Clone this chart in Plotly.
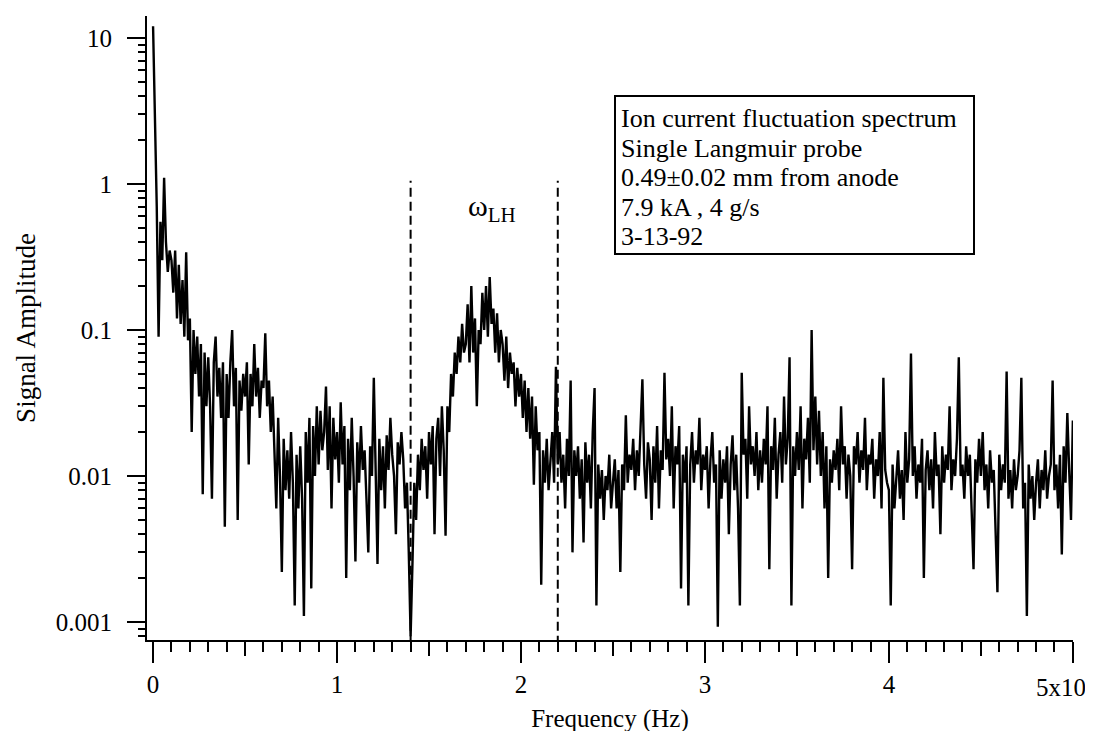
import plotly.graph_objects as go
import math

# ---------------- data ----------------
freq_step_mhz = 0.01  # spectral resolution of the plotted spectrum

amplitude = [
    # 0.0 - 0.09 MHz
    12.0, 3.2, 0.7, 0.09, 0.55, 0.3, 1.1, 0.4, 0.25, 0.35,
    # 0.1
    0.3, 0.18, 0.35, 0.12, 0.28, 0.11, 0.22, 0.09, 0.34, 0.085,
    # 0.2
    0.12, 0.02, 0.1, 0.05, 0.09, 0.035, 0.08, 0.0075, 0.07, 0.03,
    # 0.3
    0.065, 0.03, 0.007, 0.06, 0.09, 0.035, 0.055, 0.025, 0.06, 0.0045,
    # 0.4
    0.05, 0.025, 0.06, 0.1, 0.03, 0.055, 0.005, 0.045, 0.028, 0.05,
    # 0.5
    0.035, 0.06, 0.012, 0.05, 0.03, 0.08, 0.035, 0.055, 0.025, 0.045,
    # 0.6
    0.04, 0.095, 0.03, 0.045, 0.02, 0.035, 0.012, 0.006, 0.025, 0.01,
    # 0.7
    0.0022, 0.018, 0.008, 0.015, 0.007, 0.02, 0.009, 0.0013, 0.014, 0.006,
    # 0.8
    0.016, 0.007, 0.0011, 0.02, 0.009, 0.025, 0.0017, 0.022, 0.01, 0.03,
    # 0.9
    0.012, 0.028, 0.015, 0.02, 0.041, 0.011, 0.03, 0.006, 0.025, 0.013,
    # 1.0
    0.02, 0.009, 0.032, 0.012, 0.022, 0.002, 0.018, 0.008, 0.025, 0.01,
    # 1.1
    0.0026, 0.017, 0.009, 0.022, 0.011, 0.015, 0.007, 0.003, 0.016, 0.01,
    # 1.2
    0.047, 0.012, 0.0025, 0.018, 0.008, 0.016, 0.006, 0.019, 0.011, 0.025,
    # 1.3
    0.014, 0.01, 0.004, 0.017, 0.012, 0.02, 0.013, 0.006, 0.009, 0.003,
    # 1.4
    0.0008, 0.0025, 0.009, 0.005, 0.014, 0.008, 0.018, 0.011, 0.016, 0.007,
    # 1.5
    0.02, 0.012, 0.022, 0.004, 0.018, 0.025, 0.01, 0.03, 0.015, 0.0039,
    # 1.6
    0.03, 0.02, 0.05, 0.035, 0.07, 0.05, 0.09, 0.06, 0.11, 0.07,
    # 1.7
    0.08, 0.15, 0.06, 0.2, 0.07, 0.12, 0.03, 0.1, 0.08, 0.18,
    # 1.8
    0.1, 0.2, 0.09, 0.23, 0.11, 0.14, 0.07, 0.13, 0.06, 0.1,
    # 1.9
    0.08, 0.045, 0.09, 0.04, 0.07, 0.05, 0.06, 0.03, 0.055, 0.035,
    # 2.0
    0.05, 0.025, 0.045, 0.02, 0.04, 0.018, 0.035, 0.0087, 0.03, 0.015,
    # 2.1
    0.02, 0.0018, 0.015, 0.009, 0.018, 0.008, 0.013, 0.02, 0.009, 0.056,
    # 2.2
    0.012, 0.02, 0.009, 0.014, 0.006, 0.018, 0.01, 0.045, 0.003, 0.015,
    # 2.3
    0.01, 0.016, 0.007, 0.013, 0.0035, 0.017, 0.009, 0.014, 0.006, 0.02,
    # 2.4
    0.04, 0.0013, 0.012, 0.007, 0.011, 0.005, 0.01, 0.008, 0.014, 0.006,
    # 2.5
    0.009, 0.013, 0.006, 0.011, 0.0022, 0.012, 0.008, 0.026, 0.009, 0.014,
    # 2.6
    0.011, 0.018, 0.008, 0.015, 0.01, 0.02, 0.046, 0.012, 0.007, 0.017,
    # 2.7
    0.013, 0.005, 0.016, 0.009, 0.022, 0.006, 0.015, 0.011, 0.051, 0.013,
    # 2.8
    0.018, 0.01, 0.03, 0.006, 0.016, 0.012, 0.022, 0.0017, 0.014, 0.009,
    # 2.9
    0.016, 0.0013, 0.012, 0.02, 0.009, 0.015, 0.012, 0.025, 0.008, 0.014,
    # 3.0
    0.011, 0.016, 0.006, 0.013, 0.02, 0.009, 0.012, 0.00093, 0.015, 0.007,
    # 3.1
    0.013, 0.009, 0.016, 0.004, 0.012, 0.019, 0.008, 0.014, 0.006, 0.0013,
    # 3.2
    0.051, 0.014, 0.018, 0.007, 0.03, 0.012, 0.016, 0.01, 0.02, 0.008,
    # 3.3
    0.015, 0.009, 0.018, 0.012, 0.03, 0.0023, 0.016, 0.011, 0.025, 0.007,
    # 3.4
    0.014, 0.02, 0.009, 0.035, 0.012, 0.018, 0.065, 0.0013, 0.016, 0.01,
    # 3.5
    0.02, 0.011, 0.03, 0.006, 0.018, 0.013, 0.025, 0.009, 0.1, 0.015,
    # 3.6
    0.035, 0.012, 0.028, 0.01, 0.02, 0.006, 0.016, 0.002, 0.013, 0.009,
    # 3.7
    0.015, 0.011, 0.018, 0.008, 0.03, 0.012, 0.016, 0.007, 0.014, 0.01,
    # 3.8
    0.0023, 0.016, 0.012, 0.02, 0.009, 0.015, 0.011, 0.025, 0.008, 0.014,
    # 3.9
    0.012, 0.018, 0.007, 0.013, 0.01, 0.02, 0.006, 0.047, 0.011, 0.009,
    # 4.0
    0.008, 0.0013, 0.012, 0.006, 0.01, 0.015, 0.007, 0.011, 0.005, 0.02,
    # 4.1
    0.009, 0.013, 0.069, 0.01, 0.016, 0.007, 0.012, 0.009, 0.018, 0.002,
    # 4.2
    0.011, 0.015, 0.008, 0.013, 0.006, 0.02, 0.01, 0.012, 0.004, 0.016,
    # 4.3
    0.009, 0.014, 0.011, 0.03, 0.008, 0.013, 0.01, 0.018, 0.065, 0.01,
    # 4.4
    0.012, 0.007, 0.016, 0.01, 0.014, 0.006, 0.0023, 0.013, 0.009, 0.018,
    # 4.5
    0.01, 0.02, 0.008, 0.012, 0.006, 0.015, 0.009, 0.011, 0.004, 0.0016,
    # 4.6
    0.014, 0.008, 0.012, 0.009, 0.052, 0.007, 0.011, 0.006, 0.013, 0.008,
    # 4.7
    0.01, 0.015, 0.047, 0.006, 0.009, 0.0011, 0.012, 0.007, 0.01, 0.005,
    # 4.8
    0.009, 0.013, 0.006, 0.011, 0.008, 0.015, 0.007, 0.01, 0.012, 0.045,
    # 4.9
    0.008, 0.012, 0.006, 0.014, 0.0029, 0.016, 0.009, 0.027, 0.011, 0.005,
    # 5.0
    0.024,
]

freq_mhz = [round(i * freq_step_mhz, 2) for i in range(len(amplitude))]

x_tick_vals = [0, 1, 2, 3, 4, 5]
x_tick_text = ["0", "1", "2", "3", "4", ""]   # last label drawn separately (edge of page)
x_last_label = "5x10<sup>6</sup>"
x_mid_tick_vals = [0.5, 1.5, 2.5, 3.5, 4.5]
y_tick_vals = [0.001, 0.01, 0.1, 1, 10]
y_tick_text = ["0.001", "0.01", "0.1", "1", "10"]

lh_band_mhz = [1.4, 2.2]          # dashed markers bounding the lower-hybrid band
lh_band_amp = [0.0007, 1.05]      # vertical extent of the dashed markers
lh_label_pos = [1.84, 0.68]       # (MHz, amplitude) of the ω_LH label

info_lines = [
    "Ion current fluctuation spectrum",
    "Single Langmuir probe",
    "0.49±0.02 mm from anode",
    "7.9 kA , 4 g/s",
    "3-13-92",
]

FONT = "Liberation Serif"
X_RANGE = [-0.033, 5.0008]

# plot-area geometry in pixels (for the paper-anchored info box)
W, H = 1093, 731
ML, MR, MT, MB = 139, 28, 8, 99
PW, PH = W - ML - MR, H - MT - MB


def px_to_paper(px, py):
    return (px - ML) / PW, (H - MB - py) / PH


# ---------------- figure ----------------
fig = go.Figure()
fig.add_trace(go.Scatter(
    x=freq_mhz, y=amplitude, mode="lines",
    line=dict(color="black", width=2.4),
    hoverinfo="skip", showlegend=False,
))
for f in lh_band_mhz:
    fig.add_trace(go.Scatter(
        x=[f, f], y=lh_band_amp, mode="lines", xaxis="x2",
        line=dict(color="black", width=2, dash="9px,5px"),
        hoverinfo="skip", showlegend=False,
    ))

fig.add_annotation(
    x=lh_label_pos[0], y=math.log10(lh_label_pos[1]), xref="x", yref="y",
    text="ω<sub>LH</sub>", showarrow=False,
    font=dict(family=FONT, size=30, color="black"),
)

# last x tick label, right-aligned so that the exponent stays on the page
_, label_y = px_to_paper(0, 677)
fig.add_annotation(
    x=x_tick_vals[-1], y=label_y, xref="x", yref="paper",
    xanchor="right", yanchor="middle", xshift=24,
    text=x_last_label, showarrow=False,
    font=dict(family=FONT, size=25, color="black"),
)

# info box: frame + one annotation per line
bx0, by0 = px_to_paper(607, 88)
bx1, by1 = px_to_paper(966, 246)
fig.add_shape(type="rect", xref="paper", yref="paper",
              x0=bx0, x1=bx1, y0=by1, y1=by0,
              line=dict(color="black", width=2), fillcolor="white", layer="above")
for i, line in enumerate(info_lines):
    tx, ty = px_to_paper(611, 111 + i * 29.5)
    fig.add_annotation(
        x=tx, y=ty, xref="paper", yref="paper",
        xanchor="left", yanchor="middle", align="left",
        text=line, showarrow=False,
        font=dict(family=FONT, size=26, color="black"),
    )

fig.update_layout(
    width=W, height=H,
    margin=dict(l=ML, r=MR, t=MT, b=MB, autoexpand=False),
    paper_bgcolor="white", plot_bgcolor="white",
    showlegend=False,
    font=dict(family=FONT, color="black"),
    xaxis2=dict(
        overlaying="x", anchor="y", side="bottom", range=X_RANGE,
        showline=False, showgrid=False, zeroline=False, visible=True,
        automargin=False,
        ticks="outside", ticklen=15, tickwidth=2, tickcolor="black",
        tickmode="array", tickvals=x_mid_tick_vals, showticklabels=False,
    ),
)

fig.layout.xaxis.update(
    range=X_RANGE, automargin=False,
    showline=True, linecolor="black", linewidth=2, mirror=False,
    showgrid=False, zeroline=False,
    ticks="outside", ticklen=21, tickwidth=2, tickcolor="black",
    tickmode="array", tickvals=x_tick_vals, ticktext=x_tick_text,
    tickfont=dict(family=FONT, size=25, color="black"),
    minor=dict(ticks="outside", ticklen=10, tickwidth=2, tickcolor="black",
               dtick=0.1, showgrid=False),
    title=dict(text="Frequency (Hz)", font=dict(family=FONT, size=25, color="black"),
               standoff=12),
)

fig.update_yaxes(
    type="log", range=[-3.123, 1.15], automargin=False,
    showline=True, linecolor="black", linewidth=2, mirror=False,
    showgrid=False, zeroline=False,
    ticks="outside", ticklen=18, tickwidth=2, tickcolor="black",
    tickmode="array", tickvals=y_tick_vals, ticktext=y_tick_text,
    ticklabelstandoff=10,
    tickfont=dict(family=FONT, size=25, color="black"),
    minor=dict(ticks="outside", ticklen=7, tickwidth=2, tickcolor="black",
               dtick="D1", showgrid=False),
    title=dict(text="Signal Amplitude", font=dict(family=FONT, size=27, color="black"),
               standoff=12),
)

fig.write_html("out.html")
